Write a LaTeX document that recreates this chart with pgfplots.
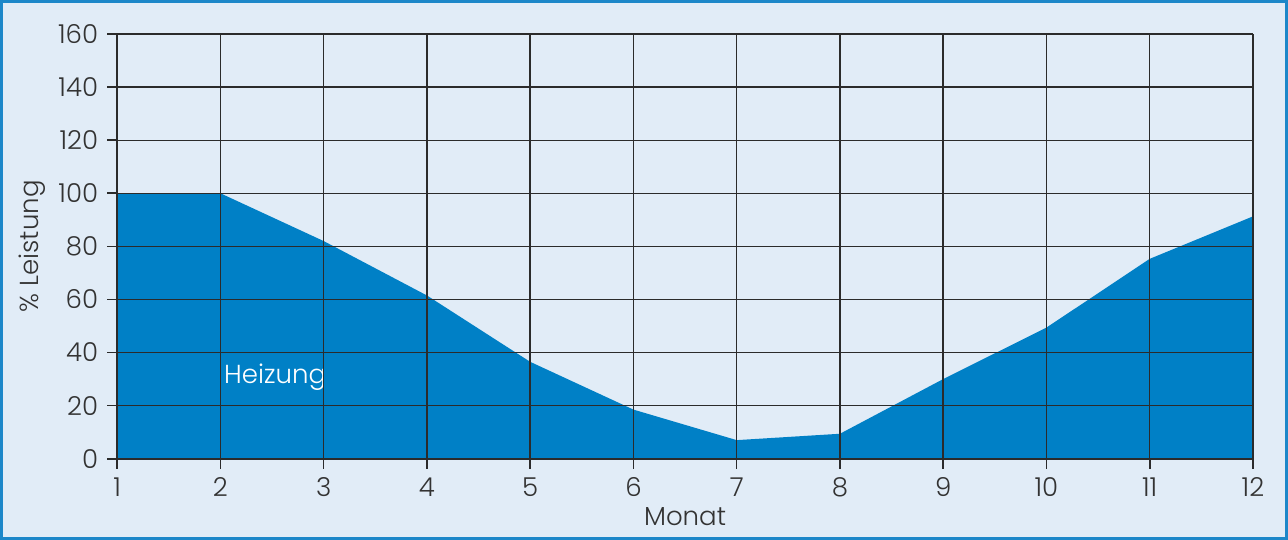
\documentclass[border=0pt]{standalone}
\usepackage{pgfplots}
\pgfplotsset{compat=1.18}
\usepackage{fontspec}
\setmainfont{Poppins}[UprightFont=* Light]
\definecolor{rahmen}{HTML}{1C87C9}
\definecolor{grund}{HTML}{E1ECF7}
\definecolor{heiz}{HTML}{0080C6}
\definecolor{linie}{HTML}{2B2B2B}
\definecolor{schrift}{HTML}{333333}

\begin{document}
\begin{tikzpicture}
	% Rahmen mit hellblauem Hintergrund
	\draw[line width=1.5pt, draw=rahmen, fill=grund]
		(-57.75pt,-39.75pt) rectangle (583.75pt,228.25pt);
	\begin{axis}[
		at={(0pt,0pt)}, anchor=origin,
		scale only axis,
		width=567pt, height=212pt,
		xmin=1, xmax=12,
		ymin=0, ymax=160,
		xtick={1,...,12},
		ytick={0,20,...,160},
		axis on top,
		grid=major,
		grid style={linie, line width=0.7pt},
		axis line style={linie, line width=0.8pt},
		tick style={linie, line width=0.8pt},
		tick align=outside,
		major tick length=5pt,
		axis x line*=bottom,
		axis y line*=left,
		/pgf/number format/assume math mode=true,
		tick label style={font=\fontsize{13}{15}\selectfont, text=schrift},
		xticklabel style={yshift=-1pt},
		yticklabel style={xshift=-1pt},
		label style={font=\fontsize{13}{15}\selectfont, text=schrift},
		xlabel={Monat},
		xlabel style={at={(axis description cs:0.5,-0.137)}, anchor=center},
		ylabel={\% Leistung},
		ylabel style={at={(axis description cs:-0.075,0.5)}, anchor=center},
	]
	\addplot[fill=heiz, draw=none] coordinates {
		(1,100)(2,100)(3,82)(4,61.5)(5,36.5)(6,18.5)(7,7)(8,9.4)(9,30)(10,49.4)(11,75.3)(12,91.3)
	} \closedcycle;
	\node[text=white, font=\fontsize{13}{15}\selectfont] at (axis cs:2.53,30.6) {Heizung};
	\end{axis}
\end{tikzpicture}
\end{document}
